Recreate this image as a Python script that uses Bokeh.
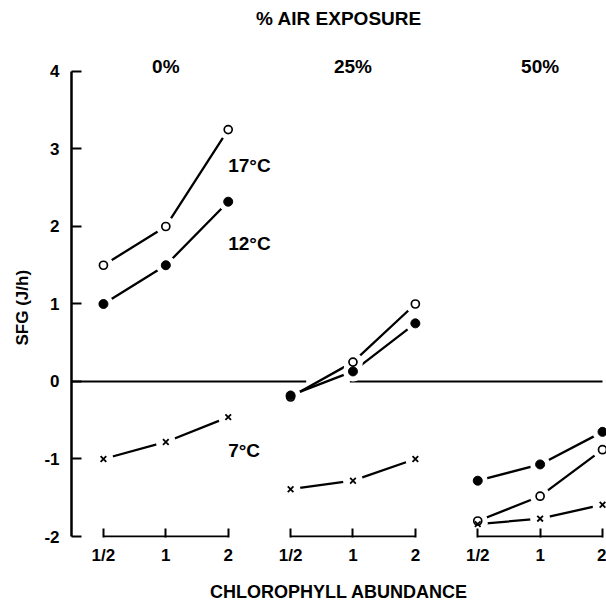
import numpy as np
from bokeh.plotting import figure
from bokeh.models import Range1d, FixedTicker, Title
from bokeh.core.properties import value
from bokeh.embed import file_html
from bokeh.resources import INLINE

# ---- data ----
panels = ["0%", "25%", "50%"]              # % air exposure
abundance = ["1/2", "1", "2"]              # chlorophyll abundance
sfg_17 = [[1.50, 2.00, 3.25], [-0.20, 0.25, 1.00], [-1.80, -1.48, -0.88]]
sfg_12 = [[1.00, 1.50, 2.32], [-0.18, 0.13, 0.75], [-1.28, -1.07, -0.65]]
sfg_7 = [[-1.00, -0.78, -0.46], [-1.39, -1.28, -1.00], [-1.84, -1.77, -1.59]]
y_ticks = [-2, -1, 0, 1, 2, 3, 4]
temp_names = ["17°C", "12°C", "7°C"]

FONT_NAME = "Liberation Sans"
FONT = value(FONT_NAME)
n_cat = len(abundance)
pos = np.arange(len(panels) * n_cat)          # evenly spaced slots
tick_labels = {int(i): abundance[i % n_cat] for i in pos}

x0, x1 = -0.512, 8.064
y0, y1 = -2.0129, 4.916

p = figure(width=606, height=604, x_range=Range1d(x0, x1), y_range=Range1d(y0, y1),
           output_backend="svg", toolbar_location=None,
           min_border_left=70, min_border_right=0, min_border_top=0, min_border_bottom=67)
p.outline_line_color = None
p.grid.visible = False
p.background_fill_color = "white"
p.border_fill_color = "white"

# y axis
ya = p.yaxis[0]
ya.ticker = FixedTicker(ticks=y_ticks)
ya.major_label_overrides = {t: str(t) for t in y_ticks}
ya.bounds = (y_ticks[0], y_ticks[-1])
ya.major_tick_in = 10
ya.major_tick_out = 0
ya.minor_tick_line_color = None
ya.axis_line_color = "black"
ya.major_tick_line_color = "black"
ya.axis_line_width = 2.5
ya.major_tick_line_width = 2
ya.major_label_text_color = "black"
ya.major_label_text_font = FONT_NAME
ya.major_label_text_font_style = "bold"
ya.major_label_text_font_size = "17px"
ya.major_label_standoff = 12

# y title, placed along the axis extent
p.add_layout(Title(text="SFG (J/h)", align="left", offset=192, standoff=20,
                   text_font=FONT_NAME, text_font_style="bold",
                   text_font_size="17px", text_color="black"), "left")

# x axis (brackets per panel)
xa = p.xaxis[0]
xa.ticker = FixedTicker(ticks=[int(i) for i in pos])
xa.major_label_overrides = tick_labels
xa.axis_line_color = None
xa.major_tick_in = 9
xa.major_tick_out = 0
xa.minor_tick_line_color = None
xa.major_tick_line_color = "black"
xa.major_tick_line_width = 2
xa.major_label_text_color = "black"
xa.major_label_text_font = FONT_NAME
xa.major_label_text_font_style = "bold"
xa.major_label_text_font_size = "17px"
xa.major_label_standoff = 8
xa.axis_label = "CHLOROPHYLL ABUNDANCE"
xa.axis_label_text_color = "black"
xa.axis_label_text_font = FONT_NAME
xa.axis_label_text_font_style = "bold"
xa.axis_label_text_font_size = "18px"
xa.axis_label_standoff = 14

first = [int(pos[k * n_cat]) for k in range(len(panels))]
last = [int(pos[k * n_cat + n_cat - 1]) for k in range(len(panels))]
p.segment(x0=first, x1=last, y0=[y_ticks[0]] * len(panels), y1=[y_ticks[0]] * len(panels),
          line_color="black", line_width=2)

# zero line (broken where curves cross it)
p.segment(x0=[x0, 3.95], x1=[3.25, float(pos[-1])], y0=[0, 0], y1=[0, 0],
          line_color="black", line_width=2)

series = [sfg_17, sfg_12, sfg_7]
for s in series:
    for k in range(len(panels)):
        p.line(pos[k * n_cat:(k + 1) * n_cat], s[k], line_color="black", line_width=2.3)

all_x = np.concatenate([pos, pos, pos])
all_y = np.concatenate([np.ravel(s) for s in series])
p.scatter(x=all_x, y=all_y, marker="circle", size=20, fill_color="white",
          fill_alpha=1.0, line_color=None)

p.scatter(x=pos, y=np.ravel(sfg_17), marker="circle", size=8, fill_color="white",
          line_color="black", line_width=1.7)
p.scatter(x=pos, y=np.ravel(sfg_12), marker="circle", size=9, fill_color="black",
          line_color="black")
p.scatter(x=pos, y=np.ravel(sfg_7), marker="x", size=8, line_color="black", line_width=1.8)

# panel headings
mids = [float(pos[k * n_cat + 1]) for k in range(len(panels))]
p.text(x=mids, y=[y_ticks[-1]] * len(panels), text=panels, y_offset=-5,
       text_align="center", text_baseline="middle", text_font=FONT,
       text_font_style="bold", text_font_size="19px", text_color="black")
p.text(x=[(x0 + x1) / 2], y=[y_ticks[-1]], text=["% AIR EXPOSURE"], y_offset=-53,
       text_align="center", text_baseline="middle", text_font=FONT,
       text_font_style="bold", text_font_size="19px", text_color="black")

# temperature labels
p.text(x=[float(pos[n_cat - 1])] * 3, y=[2.79, 1.78, -0.89], text=temp_names,
       text_align="left", text_baseline="middle", text_font=FONT,
       text_font_style="bold", text_font_size="19px", text_color="black")

open("out.html", "w").write(file_html(p, INLINE))
